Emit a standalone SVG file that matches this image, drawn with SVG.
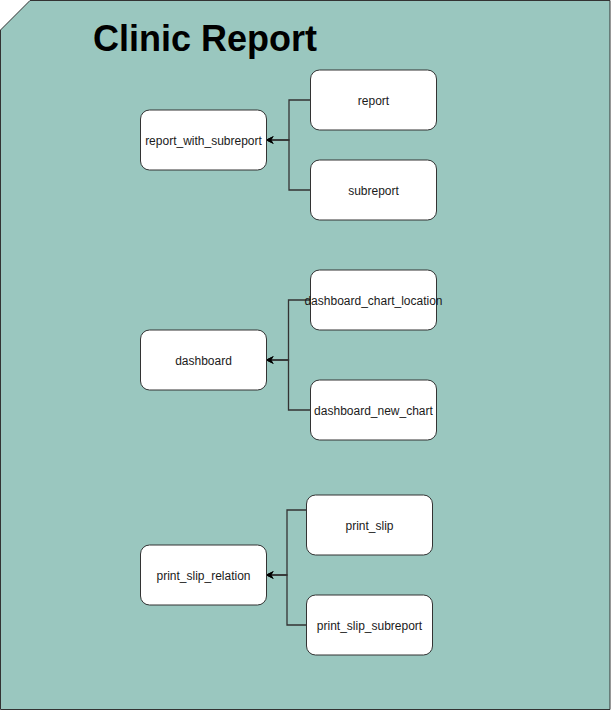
<svg xmlns="http://www.w3.org/2000/svg" width="612" height="711" viewBox="0 0 612 711">
<style>
.node rect{fill:#ffffff;stroke:#333333;stroke-width:1}
.node text{font-family:"Liberation Sans",Arial,Helvetica,sans-serif;font-size:12px;fill:#1a1a1a;text-anchor:middle}
.edge{fill:none;stroke:#333333;stroke-width:1.3;marker-end:url(#arr)}
.title{font-family:"Liberation Sans",Arial,Helvetica,sans-serif;font-size:36px;font-weight:bold;fill:#000000}
</style>
<defs>
<marker id="arr" viewBox="0 0 10 10" refX="9" refY="5" markerWidth="8" markerHeight="8" markerUnits="userSpaceOnUse" orient="auto">
<path d="M0,0 L10,5 L0,10 L3,5 Z" fill="#000000"/>
</marker>
</defs>
<g id="background">
<polygon points="30,0.5 610,0.5 610,709.5 0.5,709.5 0.5,30" fill="#9AC7BF" stroke="#333333" stroke-width="1"/>
<text class="title" x="93" y="51">Clinic Report</text>
</g>
<g id="connectors">
<path class="edge" d="M310,100 H289 V140 H266.5"/>
<path class="edge" d="M310,190 H289 V140 H266.5"/>
<path class="edge" d="M310,300 H288.5 V360 H266.5"/>
<path class="edge" d="M310,410 H288.5 V360 H266.5"/>
<path class="edge" d="M306,510 H287 V575 H266.5"/>
<path class="edge" d="M306,625 H287 V575 H266.5"/>
</g>
<g id="report_with_subreport" class="node"><rect x="140.5" y="110" width="126" height="60" rx="9"/><text x="203.5" y="145">report_with_subreport</text></g>
<g id="report" class="node"><rect x="310.5" y="70" width="126" height="60" rx="9"/><text x="373.5" y="105">report</text></g>
<g id="subreport" class="node"><rect x="310.5" y="160" width="126" height="60" rx="9"/><text x="373.5" y="195">subreport</text></g>
<g id="dashboard" class="node"><rect x="140.5" y="330" width="126" height="60" rx="9"/><text x="203.5" y="365">dashboard</text></g>
<g id="dashboard_chart_location" class="node"><rect x="310.5" y="270" width="126" height="60" rx="9"/><text x="373.5" y="305">dashboard_chart_location</text></g>
<g id="dashboard_new_chart" class="node"><rect x="310.5" y="380" width="126" height="60" rx="9"/><text x="373.5" y="415">dashboard_new_chart</text></g>
<g id="print_slip_relation" class="node"><rect x="140.5" y="545" width="126" height="60" rx="9"/><text x="203.5" y="580">print_slip_relation</text></g>
<g id="print_slip" class="node"><rect x="306.5" y="495" width="126" height="60" rx="9"/><text x="369.5" y="530">print_slip</text></g>
<g id="print_slip_subreport" class="node"><rect x="306.5" y="595" width="126" height="60" rx="9"/><text x="369.5" y="630">print_slip_subreport</text></g>
</svg>
